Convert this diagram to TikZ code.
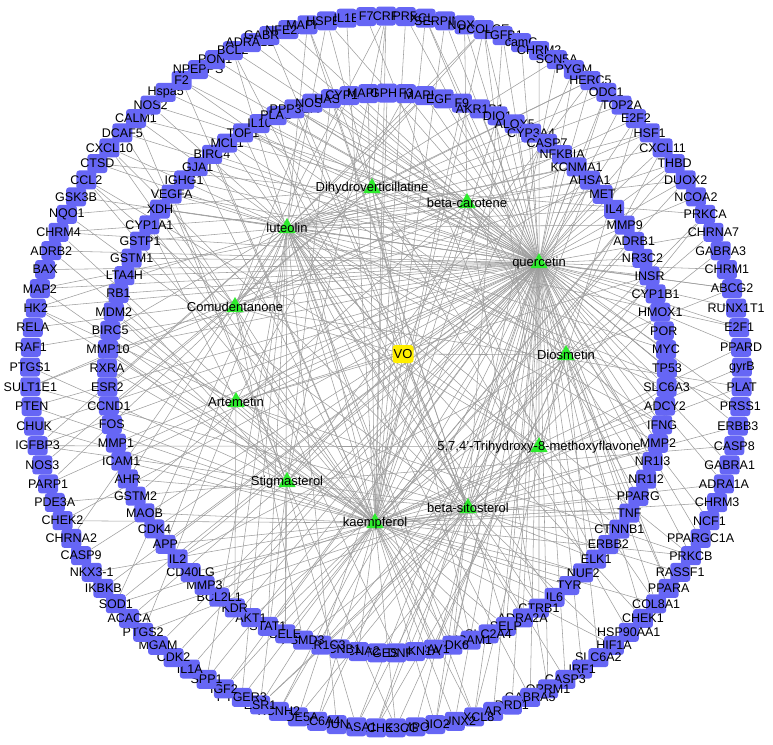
\documentclass[tikz,border=0pt]{standalone}
\usepackage{fontspec}
\setmainfont{Liberation Sans}
\usetikzlibrary{shapes.geometric}
\pgfdeclarelayer{bg}
\pgfsetlayers{bg,main}
\definecolor{geneblue}{RGB}{102,102,245}
\definecolor{compgreen}{RGB}{45,235,45}
\definecolor{voyellow}{RGB}{255,238,0}
\definecolor{edgegray}{RGB}{158,158,158}
\tikzset{
 gene/.style={rectangle, rounded corners=3pt, fill=geneblue, minimum width=20pt, minimum height=19pt, inner sep=0pt},
 lab/.style={font=\fontsize{12.5}{13}\selectfont, inner sep=0pt, text=black},
 comp/.style={regular polygon, regular polygon sides=3, fill=compgreen, minimum size=20pt, inner sep=0pt},
 clab/.style={font=\fontsize{13}{14}\selectfont, inner sep=0pt, text=black},
 herb/.style={rectangle, rounded corners=3pt, fill=voyellow, minimum width=21pt, minimum height=18pt, inner sep=0pt, font=\fontsize{13}{14}\selectfont},
 edge/.style={draw=edgegray, line width=0.55pt},
}
\begin{document}
\begin{tikzpicture}[x=1pt,y=-1pt]
\useasboundingbox (0,0) rectangle (773,744);
% outer ring
\foreach \n [count=\k] in {PTGS1, RAF1, RELA, HK2, MAP2, BAX, ADRB2, CHRM4, NQO1, GSK3B, CCL2, CTSD, CXCL10, DCAF5, CALM1, NOS2, Hspa5, F2, NPEPPS, PON1, BCL2, ADRA1D, GABRA2, NFE2L2, MAPK3, HSPB1, IL1B, F7, CRP, PRR, XCL1, SERPINE1, NOX5, PCOLCE, TGFB1, camC, CHRM2, SCN5A, PYGM, HERC5, ODC1, TOP2A, E2F2, HSF1, CXCL11, THBD, DUOX2, NCOA2, PRKCA, CHRNA7, GABRA3, CHRM1, ABCG2, RUNX1T1, E2F1, PPARD, gyrB, PLAT, PRSS1, ERBB3, CASP8, GABRA1, ADRA1A, CHRM3, NCF1, PPARGC1A, PRKCB, RASSF1, PPARA, COL8A1, CHEK1, HSP90AA1, HIF1A, SLC6A2, IRF1, CASP3, OPRM1, GABRA5, DRD1, AR, CXCL8, RUNX2, DIO2, MPO, PIK3CG, ACHE, RASA1, JUN, SLC6A4, PDE5A, KCNH2, ESR1, PTGER3, IGF2, SPP1, IL1A, CDK2, MGAM, PTGS2, ACACA, SOD1, IKBKB, NKX3-1, CASP9, CHRNA2, CHEK2, PDE3A, PARP1, NOS3, IGFBP3, CHUK, PTEN, SULT1E1}{
  \pgfmathsetmacro{\a}{179.2-(\k-1)*3.185841}
  \pgfmathsetmacro{\px}{386+356*cos(\a)}
  \pgfmathsetmacro{\py}{372-356*sin(\a)}
  \node[gene, label={[lab]center:\n}] (o\k) at (\px,\py) {};
}
% inner ring
\foreach \n [count=\k] in {RXRA, MMP10, BIRC5, MDM2, RB1, LTA4H, GSTM1, GSTP1, CYP1A1, XDH, VEGFA, IGHG1, GJA1, BIRC4, MCL1, TOP1, IL10, PLAU, PPP3CA, NOS1, HAS2, CYP1A2, MAPK8, GPH1, F3, MAPK1, EGFR, F9, AKR1B1, DIO1, ALOX5, CYP3A4, CASP7, NFKBIA, KCNMA1, AHSA1, MET, IL4, MMP9, ADRB1, NR3C2, INSR, CYP1B1, HMOX1, POR, MYC, TP53, SLC6A3, ADCY2, IFNG, MMP2, NR1I3, NR1I2, PPARG, TNF, CTNNB1, ERBB2, ELK1, NUF2, TYR, IL6, CTRB1, ADRA2A, SELP, SLC2A4, VCAM1, CDK6, CAV1, CDKN1A, BDNF, PTGES, CCNA2, CCNB1, AKR1C3, PSMD3, SELE, STAT1, AKT1, KDR, BCL2L1, MMP3, CD40LG, IL2, APP, CDK4, MAOB, GSTM2, AHR, ICAM1, MMP1, FOS, CCND1, ESR2}{
  \pgfmathsetmacro{\a}{179-(\k-1)*3.870968}
  \pgfmathsetmacro{\px}{387+280*cos(\a)}
  \pgfmathsetmacro{\py}{373-280*sin(\a)}
  \node[gene, label={[lab]center:\n}] (i\k) at (\px,\py) {};
}
% compounds
\node[comp, label={[clab]center:quercetin}] (c1) at (539,263) {};
\node[comp, label={[clab]center:kaempferol}] (c2) at (375,523) {};
\node[comp, label={[clab]center:luteolin}] (c3) at (287,228) {};
\node[comp, label={[clab]center:beta-sitosterol}] (c4) at (468,508) {};
\node[comp, label={[clab]center:Stigmasterol}] (c5) at (287,482) {};
\node[comp, label={[clab]center:beta-carotene}] (c6) at (467,203) {};
\node[comp, label={[clab]center:Dihydroverticillatine}] (c7) at (372,188) {};
\node[comp, label={[clab]center:{5,7,4'-Trihydroxy-8-methoxyflavone}}] (c8) at (539,447) {};
\node[comp, label={[clab]center:Diosmetin}] (c9) at (566,355) {};
\node[comp, label={[clab]center:Artemetin}] (c10) at (236,402) {};
\node[comp, label={[clab]center:Comudentanone}] (c11) at (235,307) {};
\node[herb] (vo) at (403,354) {VO};
% edges
\begin{pgfonlayer}{bg}
\pgfmathsetseed{11}
\foreach \k in {1,...,113}{
  \gdef\nhit{0}
  \foreach \c/\pr in {1/0.6, 2/0.28, 3/0.25, 4/0.15, 5/0.1, 6/0.08, 7/0.06, 8/0.06, 9/0.06, 10/0.05, 11/0.05}{
    \pgfmathtruncatemacro{\hit}{rnd<\pr}
    \ifnum\hit=1 \draw[edge] (o\k) -- (c\c); \xdef\nhit{1}\fi
  }
  \ifnum\nhit=0 \draw[edge] (o\k) -- (c1);\fi
}
\foreach \k in {1,...,93}{
  \gdef\nhit{0}
  \foreach \c/\pr in {1/0.6, 2/0.3, 3/0.27, 4/0.15, 5/0.1, 6/0.08, 7/0.06, 8/0.06, 9/0.06, 10/0.05, 11/0.05}{
    \pgfmathtruncatemacro{\hit}{rnd<\pr}
    \ifnum\hit=1 \draw[edge] (i\k) -- (c\c); \xdef\nhit{1}\fi
  }
  \ifnum\nhit=0 \draw[edge] (i\k) -- (c2);\fi
}
\foreach \c in {1,...,11}{\draw[edge] (vo) -- (c\c);}
\end{pgfonlayer}
\end{tikzpicture}
\end{document}
